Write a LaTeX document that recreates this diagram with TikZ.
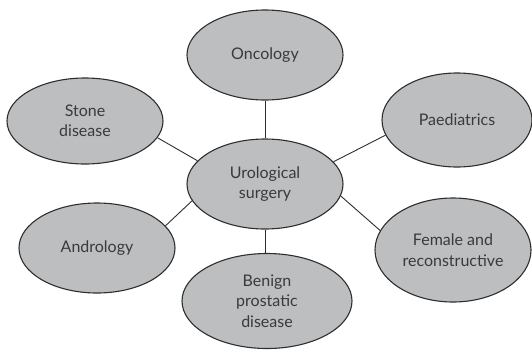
\documentclass[tikz,border=0pt]{standalone}
\usepackage{fontspec}
\setmainfont{Lato}
\usetikzlibrary{shapes.geometric}
\definecolor{bubblefill}{HTML}{BDBEC0}
\definecolor{inkdark}{HTML}{2E2E2E}
\definecolor{textgray}{HTML}{3A3A3A}
\tikzset{
  topic/.style={ellipse, draw=inkdark, line width=1.1pt, fill=bubblefill,
    inner sep=0pt, align=center, text=textgray,
    font=\fontsize{16}{20.5}\selectfont},
  link/.style={draw=inkdark, line width=0.9pt}
}
\begin{document}
\begin{tikzpicture}[x=1pt,y=-1pt]
  \useasboundingbox (0,0) rectangle (532,351);
  % satellite topics
  \node[topic, minimum width=156pt, minimum height=90pt] (onc) at (265,55) {Oncology};
  \node[topic, minimum width=156pt, minimum height=86pt] (stone) at (85,121) {Stone\\disease};
  \node[topic, minimum width=150pt, minimum height=94pt] (paed) at (457,120) {Paediatrics};
  \node[topic, minimum width=156pt, minimum height=90pt] (andro) at (97,248) {Andrology};
  \node[topic, minimum width=156pt, minimum height=104pt] (fem) at (453,250) {Female and\\reconstructive};
  \node[topic, minimum width=170pt, minimum height=95pt] (bph) at (267,301) {Benign\\prostatic\\disease};
  % central topic
  \node[topic, minimum width=156pt, minimum height=90pt] (uro) at (265,184) {Urological\\surgery};
  % spokes from the central topic
  \draw[link] (uro.90) -- (onc.270);
  \draw[link] (uro.161.3) -- (stone.-13.3);
  \draw[link] (uro.18.7) -- (paed.192.2);
  \draw[link] (uro.193.9) -- (andro.18.2);
  \draw[link] (uro.-9) -- (fem.165.8);
  \draw[link] (uro.270) -- (uro.270 |- bph.north);
\end{tikzpicture}
\end{document}
